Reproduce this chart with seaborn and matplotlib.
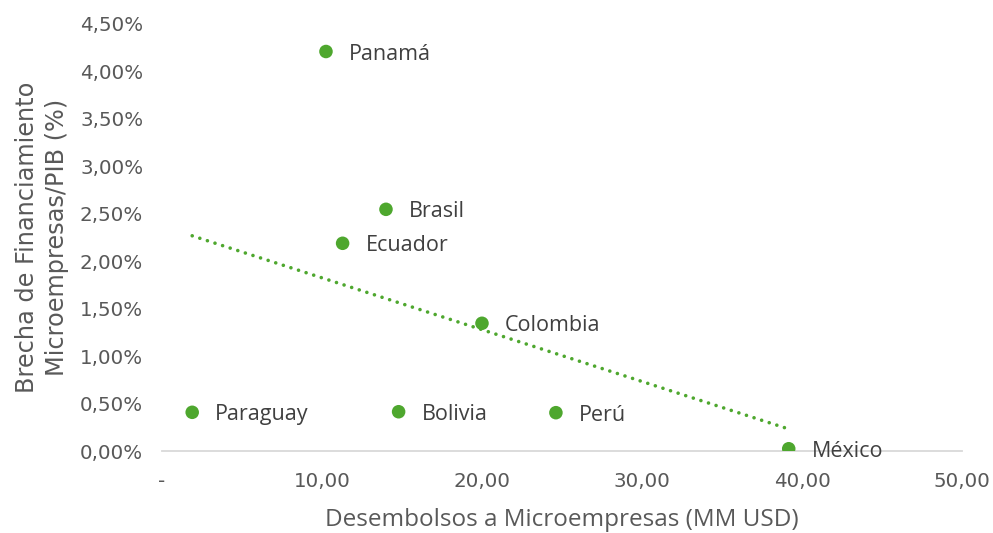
import matplotlib
matplotlib.use("Agg")
import matplotlib.pyplot as plt
import seaborn as sns
import pandas as pd
from matplotlib.ticker import FixedLocator, FixedFormatter

# Microenterprise disbursements vs. financing gap, by country
countries = ["Panamá", "Brasil", "Ecuador", "Colombia", "Paraguay", "Bolivia", "Perú", "México"]
desembolsos = [10.25, 14.00, 11.29, 20.00, 1.89, 14.79, 24.62, 39.17]   # MM USD
brecha_pct = [4.21, 2.547, 2.189, 1.346, 0.408, 0.414, 0.404, 0.024]    # % of GDP

x_ticks = [0, 10, 20, 30, 40, 50]
x_tick_labels = ["-", "10,00", "20,00", "30,00", "40,00", "50,00"]
y_ticks = [0, 0.5, 1.0, 1.5, 2.0, 2.5, 3.0, 3.5, 4.0, 4.5]
y_tick_labels = ["0,00%", "0,50%", "1,00%", "1,50%", "2,00%", "2,50%",
                 "3,00%", "3,50%", "4,00%", "4,50%"]

x_title = "Desembolsos a Microempresas (MM USD)"
y_title = "Brecha de Financiamiento\nMicroempresas/PIB (%)"

GREEN = "#4EA72E"
TEXT = "#595959"
LABEL = "#404040"
AXIS = "#D9D9D9"

df = pd.DataFrame({"pais": countries, "desembolsos": desembolsos, "brecha": brecha_pct})

sns.set_theme(style="white")
plt.rcParams["font.family"] = ["DejaVu Sans"]

fig = plt.figure(figsize=(9.93, 5.33), dpi=100)
ax = fig.add_axes([0.1631, 0.1538, 0.8057, 0.8012])

# linear trend line (dotted)
sns.regplot(data=df, x="desembolsos", y="brecha", ax=ax, scatter=False, ci=None,
            truncate=True,
            line_kws=dict(color=GREEN, lw=2.6, linestyle=(0, (0.01, 2.2)),
                          dash_capstyle="round", zorder=2))

sns.scatterplot(data=df, x="desembolsos", y="brecha", ax=ax, color=GREEN,
                s=95, edgecolor="none", zorder=3)

for name, xv, yv in zip(df["pais"], df["desembolsos"], df["brecha"]):
    ax.annotate(name, (xv, yv), xytext=(16.5, 0), textcoords="offset points",
                ha="left", va="center_baseline", fontsize=15.5, color=LABEL,
                family=["Open Sans", "DejaVu Sans"], zorder=4)

ax.set_xlim(0, 50)
ax.set_ylim(0, 4.5)
ax.xaxis.set_major_locator(FixedLocator(x_ticks))
ax.xaxis.set_major_formatter(FixedFormatter(x_tick_labels))
ax.yaxis.set_major_locator(FixedLocator(y_ticks))
ax.yaxis.set_major_formatter(FixedFormatter(y_tick_labels))

ax.tick_params(axis="both", length=0, labelsize=14.3, labelcolor=TEXT)
ax.tick_params(axis="y", pad=13.5)
ax.tick_params(axis="x", pad=15)

for side in ["top", "right", "left"]:
    ax.spines[side].set_visible(False)
ax.spines["bottom"].set_color(AXIS)
ax.spines["bottom"].set_linewidth(1.3)
ax.grid(False)

ax.set_xlabel(x_title, fontsize=17.5, color=TEXT, family=["Open Sans", "DejaVu Sans"],
              labelpad=12)
ax.set_ylabel(y_title, fontsize=17.3, color=TEXT, family=["DejaVu Sans"],
              multialignment="center", labelpad=8, linespacing=1.3)

fig.savefig("out.png", dpi=100, facecolor="white")
